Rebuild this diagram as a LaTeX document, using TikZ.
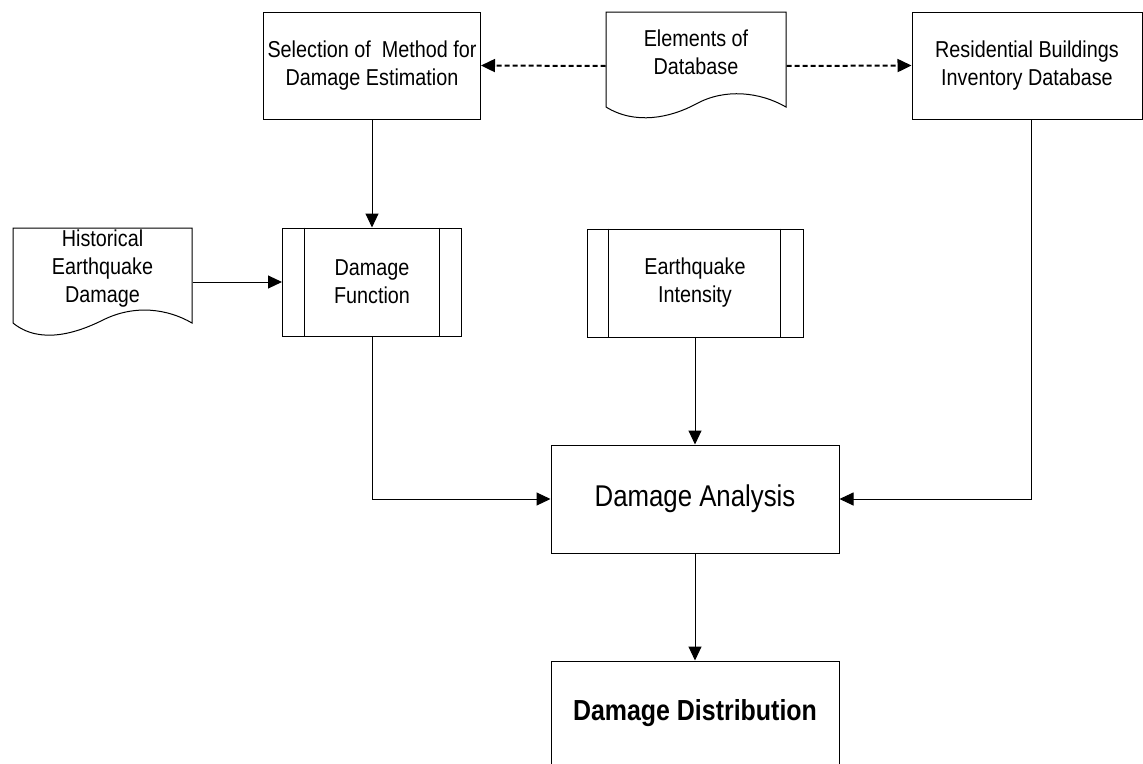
\documentclass[tikz,border=0pt]{standalone}
\usepackage{fontspec}
\setmainfont[FakeStretch=0.86]{Liberation Sans}
\usetikzlibrary{arrows.meta}
\begin{document}
\begin{tikzpicture}[x=1pt,y=-1pt,
  line width=1pt,
  small/.style={font=\fontsize{23}{28}\selectfont},
  box/.style={draw,rectangle,inner sep=0pt,align=center,small},
  ghost/.style={rectangle,inner sep=0pt},
  txt/.style={align=center,small,inner sep=0pt},
  arr/.style={-{Triangle[length=14pt,width=13pt]}},
  darr/.style={-{Triangle[length=14pt,width=13pt]},line width=2pt,dash pattern=on 5pt off 3pt}]
\useasboundingbox (0,0) rectangle (1143,763);

% nodes
\node[box,minimum width=217,minimum height=107] (sel) at (372,65.5) {Selection of\ \ Method for\\Damage Estimation};
\node[ghost,minimum width=180,minimum height=108] (elem) at (696,66) {};
\node[box,minimum width=230,minimum height=107] (res) at (1027,65.5) {Residential Buildings\\Inventory Database};
\node[ghost,minimum width=179,minimum height=108] (hist) at (102.5,282) {};
\node[box,minimum width=179,minimum height=108] (func) at (372,282) {Damage\\Function};
\node[box,minimum width=216,minimum height=108] (eq) at (695,283) {Earthquake\\Intensity};
\node[box,minimum width=288,minimum height=108,font=\fontsize{30}{36}\selectfont] (ana) at (695,499) {Damage Analysis};
\node[box,minimum width=288,minimum height=104,font=\fontsize{29}{35}\selectfont\bfseries] (dist) at (695,713) {Damage Distribution};

% document shapes
\draw (606,12) -- (786,12) -- (786,107)
  .. controls (760,92) and (725,88) .. (696,104)
  .. controls (670,118) and (635,125) .. (606,107) -- cycle;
\node[txt] (elemtext) at ([yshift=14pt]elem.center) {Elements of\\Database};
\draw (13,228) -- (192,228) -- (192,323)
  .. controls (168,309) and (135,304) .. (103,320)
  .. controls (77,333) and (40,345) .. (13,323) -- cycle;
\node[txt] (histtext) at ([yshift=13pt]hist.center) {Historical\\Earthquake\\Damage};

% predefined process side bars
\draw ([xshift=22pt]func.north west) -- ([xshift=22pt]func.south west);
\draw ([xshift=-23pt]func.north east) -- ([xshift=-23pt]func.south east);
\draw ([xshift=22pt]eq.north west) -- ([xshift=22pt]eq.south west);
\draw ([xshift=-23pt]eq.north east) -- ([xshift=-23pt]eq.south east);

% connectors
\draw[darr] (elem.west) -- (sel.east);
\draw[darr] (elem.east) -- (res.west);
\draw[arr] (sel.south) -- (func.north);
\draw[arr] (hist.east) -- (func.west);
\draw[arr] (func.south) |- (ana.west);
\draw[arr] (eq.south) -- (ana.north);
\draw[arr] ([xshift=4pt]res.south) |- (ana.east);
\draw[arr] (ana.south) -- (dist.north);
\end{tikzpicture}
\end{document}
